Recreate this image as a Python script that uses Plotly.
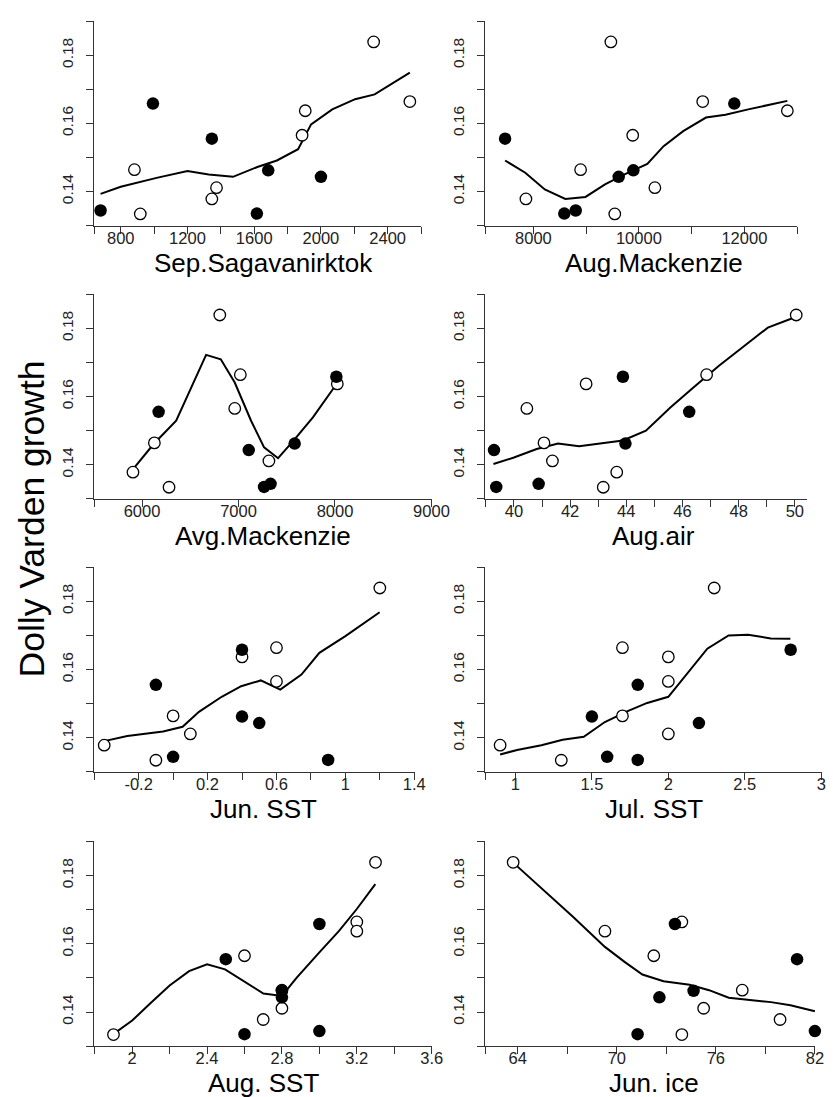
import plotly.graph_objects as go

W, H = 840, 1097
FONT = "Liberation Sans, Arial, sans-serif"

# ---------------- data ----------------
# growth values shared by all panels (open = one group, filled = other group)
open_growth = [0.1839, 0.1664, 0.1637, 0.1565, 0.1464, 0.1411, 0.1378, 0.1334]
filled_growth = [0.1658, 0.1555, 0.1462, 0.1443, 0.1344, 0.1335]

titles = ["Sep.Sagavanirktok", "Aug.Mackenzie", "Avg.Mackenzie", "Aug.air",
          "Jun. SST", "Jul. SST", "Aug. SST", "Jun. ice"]

y_tickvals = [0.13, 0.14, 0.15, 0.16, 0.17, 0.18, 0.19]
y_ticktext = ["", "0.14", "", "0.16", "", "0.18", ""]

# Sep.Sagavanirktok
sag_open_x = [2316, 2533, 1906, 1887, 882, 1374, 1346, 917]
sag_filled_x = [993, 1346, 1684, 2000, 679, 1616]
sag_line_x = [679, 800, 1015, 1200, 1327, 1473, 1619, 1736, 1863, 1941, 2068, 2205, 2322, 2533]
sag_line_y = [0.1393, 0.1414, 0.1440, 0.1460, 0.1450, 0.1443, 0.1472, 0.1491, 0.1524, 0.1597,
              0.1641, 0.1671, 0.1685, 0.1749]
sag_ticks = [800, 1000, 1200, 1400, 1600, 1800, 2000, 2200, 2400, 2600]
sag_labels = ["800", "", "1200", "", "1600", "", "2000", "", "2400", ""]

# Aug.Mackenzie
augm_open_x = [9469, 11210, 12815, 9883, 8895, 10303, 7858, 9543]
augm_filled_x = [11809, 7463, 9895, 9617, 8802, 8586]
augm_line_x = [7463, 7846, 8216, 8605, 8988, 9358, 9728, 10160, 10469, 10840, 11272, 11642, 12074, 12815]
augm_line_y = [0.1491, 0.1455, 0.1406, 0.1378, 0.1384, 0.1421, 0.1450, 0.1481, 0.1533, 0.1577,
               0.1617, 0.1625, 0.1641, 0.1666]
augm_ticks = [8000, 9000, 10000, 11000, 12000, 13000]
augm_labels = ["8000", "", "10000", "", "12000", ""]

# Avg.Mackenzie
avgm_open_x = [6806, 7019, 8024, 6961, 6128, 7315, 5906, 6280]
avgm_filled_x = [8014, 6172, 7582, 7106, 7332, 7265]
avgm_line_x = [5899, 6118, 6354, 6506, 6664, 6816, 6961, 7130, 7265, 7410, 7568, 7771, 8007]
avgm_line_y = [0.1384, 0.1460, 0.1529, 0.1626, 0.1722, 0.1709, 0.1641, 0.1529, 0.1451, 0.1419,
               0.1470, 0.1539, 0.1633]
avgm_ticks = [6000, 7000, 8000, 9000]
avgm_labels = ["6000", "7000", "8000", "9000"]

# Aug.air
air_open_x = [50.05, 46.86, 42.57, 40.46, 41.07, 41.37, 43.66, 43.18]
air_filled_x = [43.88, 46.24, 43.97, 39.29, 40.88, 39.37]
air_line_x = [39.27, 40.0, 40.81, 41.57, 42.32, 43.13, 43.88, 44.70, 45.57, 46.38, 47.30, 48.12, 49.04, 50.03]
air_line_y = [0.1402, 0.1421, 0.1446, 0.1462, 0.1454, 0.1463, 0.1471, 0.1500, 0.1568, 0.1626,
              0.1690, 0.1743, 0.1802, 0.1833]
air_ticks = [39, 40, 41, 42, 43, 44, 45, 46, 47, 48, 49, 50]
air_labels = ["", "40", "", "42", "", "44", "", "46", "", "48", "", "50"]

# Jun. SST
jun_open_x = [1.2, 0.6, 0.4, 0.6, 0.0, 0.1, -0.4, -0.1]
jun_filled_x = [0.4, -0.1, 0.4, 0.5, 0.0, 0.9]
jun_line_x = [-0.40, -0.266, -0.058, 0.055, 0.150, 0.282, 0.395, 0.509, 0.622, 0.745, 0.849, 1.0, 1.199]
jun_line_y = [0.1390, 0.1405, 0.1418, 0.1432, 0.1476, 0.1520, 0.1551, 0.1568, 0.1541, 0.1585,
              0.1649, 0.1698, 0.1768]
jun_ticks = [-0.2, 0.0, 0.2, 0.4, 0.6, 0.8, 1.0, 1.2, 1.4]
jun_labels = ["-0.2", "", "0.2", "", "0.6", "", "1", "", "1.4"]

# Jul. SST
jul_open_x = [2.3, 1.7, 2.0, 2.0, 1.7, 2.0, 0.9, 1.3]
jul_filled_x = [2.8, 1.8, 1.5, 2.2, 1.6, 1.8]
jul_line_x = [0.90, 1.011, 1.170, 1.309, 1.447, 1.585, 1.734, 1.862, 2.0, 2.138, 2.255, 2.394, 2.522,
              2.670, 2.798]
jul_line_y = [0.1351, 0.1364, 0.1378, 0.1394, 0.1403, 0.1446, 0.1478, 0.1502, 0.1520, 0.1595,
              0.1661, 0.1700, 0.1702, 0.1691, 0.1690]
jul_ticks = [1.0, 1.5, 2.0, 2.5, 3.0]
jul_labels = ["1", "1.5", "2", "2.5", "3"]

# Aug. SST
aug_open_x = [3.3, 3.2, 3.2, 2.6, 2.8, 2.8, 2.7, 1.9]
aug_filled_x = [3.0, 2.5, 2.8, 2.8, 3.0, 2.6]
aug_line_x = [1.901, 2.0, 2.096, 2.2, 2.304, 2.4, 2.496, 2.6, 2.701, 2.8, 2.878, 3.0, 3.104, 3.2, 3.299]
aug_line_y = [0.1336, 0.1375, 0.1425, 0.1478, 0.1520, 0.1540, 0.1525, 0.1488, 0.1454, 0.1447,
              0.1500, 0.1575, 0.1637, 0.1702, 0.1775]
aug_ticks = [2.0, 2.2, 2.4, 2.6, 2.8, 3.0, 3.2, 3.4, 3.6]
aug_labels = ["2", "", "2.4", "", "2.8", "", "3.2", "", "3.6"]

# Jun. ice
ice_open_x = [63.72, 73.94, 69.28, 72.24, 77.60, 75.26, 79.89, 73.94]
ice_filled_x = [73.52, 80.92, 74.65, 72.58, 82.0, 71.26]
ice_line_x = [63.72, 65.34, 67.31, 69.28, 70.47, 71.55, 72.83, 74.41, 75.59, 76.78, 77.96, 79.34,
              80.52, 82.0]
ice_line_y = [0.1838, 0.1768, 0.1681, 0.1591, 0.1547, 0.1510, 0.1490, 0.1480, 0.1464, 0.1442,
              0.1436, 0.1429, 0.1420, 0.1402]
ice_ticks = [64, 67, 70, 73, 76, 79, 82]
ice_labels = ["64", "", "70", "", "76", "", "82"]

panels_data = [
    (sag_open_x, sag_filled_x, sag_line_x, sag_line_y, sag_ticks, sag_labels),
    (augm_open_x, augm_filled_x, augm_line_x, augm_line_y, augm_ticks, augm_labels),
    (avgm_open_x, avgm_filled_x, avgm_line_x, avgm_line_y, avgm_ticks, avgm_labels),
    (air_open_x, air_filled_x, air_line_x, air_line_y, air_ticks, air_labels),
    (jun_open_x, jun_filled_x, jun_line_x, jun_line_y, jun_ticks, jun_labels),
    (jul_open_x, jul_filled_x, jul_line_x, jul_line_y, jul_ticks, jul_labels),
    (aug_open_x, aug_filled_x, aug_line_x, aug_line_y, aug_ticks, aug_labels),
    (ice_open_x, ice_filled_x, ice_line_x, ice_line_y, ice_ticks, ice_labels),
]

# ---------------- layout (pixels) ----------------
x_ranges = [(644, 2600), (7093, 13000), (5510, 9000), (38.99, 50.43),
            (-0.455, 1.4), (0.805, 3.0), (1.8, 3.6), (62.05, 82)]
x_pix = [(88.3, 422.4), (487.7, 806.7), (88.3, 433.1), (487.7, 816.7),
         (88.3, 415.5), (487.7, 831.4), (88.3, 433.3), (487.7, 824.9)]
row_pix = [(13, 217.7), (286, 491), (559, 764), (833.3, 1038.3)]
title_cx = [261, 660]

AX = "#333333"
TXT = "#222222"

fig = go.Figure()
layout = dict(width=W, height=H, margin=dict(l=0, r=0, t=0, b=0),
              paper_bgcolor="white", plot_bgcolor="white", showlegend=False,
              font=dict(family=FONT, color=TXT))
annotations = []

for i, (ox, fx, lx, ly, ticks, labels) in enumerate(panels_data):
    r, c = divmod(i, 2)
    n = "" if i == 0 else str(i + 1)
    xa, ya = "x" + n, "y" + n
    lo, hi = x_ranges[i]
    span = hi - lo
    px0, px1 = x_pix[i]
    top, bot = row_pix[r]
    eps = span * 0.001
    tv = [lo] + list(ticks)
    tt = [""] + list(labels)
    layout["xaxis" + n] = dict(
        domain=[px0 / W, px1 / W], range=[lo - eps, hi + eps], anchor=ya,
        showline=True, linecolor=AX, linewidth=1.3, mirror=False,
        ticks="outside", ticklen=7, tickwidth=1.2, tickcolor=AX,
        tickvals=tv, ticktext=tt, showgrid=False, zeroline=False,
        ticklabelstandoff=-10,
        tickfont=dict(family=FONT, size=16.5, color=TXT),
    )
    layout["yaxis" + n] = dict(
        domain=[1 - bot / H, 1 - top / H], range=[0.12995, 0.19005], anchor=xa,
        showline=True, linecolor=AX, linewidth=1.3, mirror=False,
        ticks="outside", ticklen=7, tickwidth=1.2, tickcolor=AX,
        tickvals=y_tickvals, ticktext=y_ticktext, tickangle=-90,
        ticklabelstandoff=7,
        showgrid=False, zeroline=False,
        tickfont=dict(family=FONT, size=15.5, color=TXT),
    )
    fig.add_trace(go.Scatter(x=lx, y=ly, mode="lines", xaxis=xa, yaxis=ya,
                             line=dict(color="black", width=2), hoverinfo="skip"))
    fig.add_trace(go.Scatter(x=ox, y=open_growth, mode="markers", xaxis=xa, yaxis=ya,
                             cliponaxis=False,
                             marker=dict(symbol="circle", size=11.5, color="white",
                                         line=dict(color="black", width=1.3))))
    fig.add_trace(go.Scatter(x=fx, y=filled_growth, mode="markers", xaxis=xa, yaxis=ya,
                             cliponaxis=False,
                             marker=dict(symbol="circle", size=12.5, color="black",
                                         line=dict(color="black", width=0))))
    annotations.append(dict(text=titles[i], xref="paper", yref="paper",
                            x=title_cx[c] / W, y=1 - (bot + 37) / H,
                            xanchor="center", yanchor="middle", showarrow=False,
                            font=dict(family=FONT, size=26, color="black")))

annotations.append(dict(text="Dolly Varden growth", xref="paper", yref="paper",
                        x=25 / W, y=1 - 511 / H, xanchor="center", yanchor="middle",
                        textangle=-90, showarrow=False,
                        font=dict(family=FONT, size=35.5, color="black")))
layout["annotations"] = annotations
fig.update_layout(**layout)
fig.write_html("out.html")
